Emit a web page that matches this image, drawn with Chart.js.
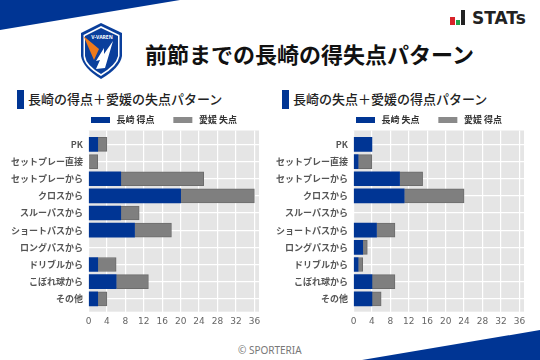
<!DOCTYPE html>
<html>
<head>
<meta charset="utf-8">
<script src="https://cdn.jsdelivr.net/npm/chart.js@4/dist/chart.umd.js"></script>
<style>
  html, body { margin: 0; padding: 0; background: #fff; }
  body { width: 540px; height: 360px; position: relative; overflow: hidden; font-family: "Noto Sans CJK JP", sans-serif; }
  .abs { position: absolute; white-space: nowrap; }
  canvas { position: absolute; }
  #title { left: 145px; top: 38px; font-size: 22px; line-height: 30px; font-weight: 700; color: #111; }
  .sub { top: 89px; font-size: 13px; line-height: 20px; font-weight: 500; color: #222; }
  .mark { top: 90px; width: 7px; height: 19px; background: #003594; }
  #copy { left: 238px; top: 343px; font-size: 10px; line-height: 14px; color: #777; font-family: "Noto Sans", sans-serif; }
  #stats { left: 472px; top: 6px; font-size: 17px; line-height: 24px; font-weight: 700; color: #222; font-family: "DejaVu Sans", sans-serif; }
</style>
</head>
<body>
<svg class="abs" style="left:0;top:0" width="540" height="360">
  <polygon points="0,0 180,0 0,30" fill="#003594"/>
  <polygon points="362,360 540,330 540,360" fill="#003594"/>
  <!-- club badge -->
  <path d="M101,23 L122,33 L122,56 Q120,68 101,79 Q83,68 81,56 L81,33 Z" fill="#0a3f9c"/>
  <path d="M101,26 L119.5,35 L119.5,56 Q118,66 101,76 Q84,66 83.5,56 L83.5,35 Z" fill="#fff"/>
  <path d="M101,28 L118,36 L118,56 Q116,65 101,74 Q86,65 85,56 L85,36 Z" fill="#0a3f9c"/>
  <polygon points="83.5,36 99,49 94,60" fill="#ee7a1c"/>
  <polygon points="113,41 105,68 96,69 100,60 96,61 104,48 104,54" fill="#fff"/>
  <text x="102" y="39" font-size="5" font-weight="700" fill="#fff" text-anchor="middle" font-family="Noto Sans">V-VAREN</text>
  <!-- stats mark -->
  <rect x="450" y="17" width="5" height="8" fill="#d8232a"/>
  <rect x="456" y="20" width="4" height="5" fill="#1fa34a"/>
  <rect x="461" y="10" width="4" height="15" fill="#222"/>
</svg>
<div id="title" class="abs">前節までの長崎の得失点パターン</div>
<div id="stats" class="abs">STATs</div>
<div class="mark abs" style="left:17px"></div>
<div class="sub abs" style="left:28px">長崎の得点＋愛媛の失点パターン</div>
<div class="mark abs" style="left:282px"></div>
<div class="sub abs" style="left:293px">長崎の失点＋愛媛の得点パターン</div>
<canvas id="chartLeft" style="left:0;top:105px" width="270" height="230"></canvas>
<canvas id="chartRight" style="left:265px;top:105px" width="270" height="230"></canvas>
<div id="copy" class="abs">© SPORTERIA</div>
<script>
const categories = ['PK', 'セットプレー直接', 'セットプレーから', 'クロスから', 'スルーパスから', 'ショートパスから', 'ロングパスから', 'ドリブルから', 'こぼれ球から', 'その他'];
const tickLabels = [0, 4, 8, 12, 16, 20, 24, 28, 32, 36];

const nagasakiGoals = [2, 0, 7, 20, 7, 10, 0, 2, 6, 2];
const ehimeConceded = [2, 2, 18, 16, 4, 8, 0, 4, 7, 2];
const nagasakiConceded = [4, 1, 10, 11, 0, 5, 2, 1, 4, 4];
const ehimeGoals = [0, 3, 5, 13, 0, 4, 1, 1, 5, 2];

const BLUE = '#003594';
const GREY = '#7f7f7f';
const FONT = '"Noto Sans CJK JP", sans-serif';

// y is a linear scale so the first and last bars can sit away from the plot edge
function points(values) {
    return values.map((v, i) => ({ x: v, y: i }));
}

function draw(id, firstLabel, firstData, secondLabel, secondData) {
    const ctx = document.getElementById(id).getContext('2d');
    return new Chart(ctx, {
        type: 'bar',
        data: {
            datasets: [
                {
                    label: firstLabel,
                    data: points(firstData),
                    // an empty bar would still leave a sliver
                    backgroundColor: (c) => (firstData[c.dataIndex] === 0 ? 'transparent' : BLUE),
                    borderWidth: 0
                },
                {
                    label: secondLabel,
                    data: points(secondData),
                    backgroundColor: (c) => (secondData[c.dataIndex] === 0 ? 'transparent' : GREY),
                    borderColor: '#6c6c6c',
                    borderWidth: (c) => (secondData[c.dataIndex] === 0 ? 0 : 1)
                }
            ]
        },
        options: {
            indexAxis: 'y',
            responsive: false,
            animation: false,
            layout: { padding: { left: 0, right: 11, top: 0, bottom: 0 } },
            datasets: { bar: { barThickness: 14 } },
            plugins: {
                tooltip: { enabled: false },
                legend: {
                    position: 'top',
                    align: 'start',
                    labels: {
                        boxWidth: 19,
                        boxHeight: 6,
                        padding: 6.5,
                        color: '#333',
                        font: { family: FONT, size: 9, weight: '700' },
                        generateLabels(chart) {
                            return Chart.defaults.plugins.legend.labels.generateLabels(chart).map((item, i) => ({
                                ...item,
                                text: ' ' + item.text + '      ',
                                lineWidth: 0,
                                fillStyle: i === 0 ? BLUE : '#8a8a8a'
                            }));
                        }
                    }
                }
            },
            scales: {
                x: {
                    stacked: true,
                    min: 0,
                    max: 37,
                    afterBuildTicks: (axis) => { axis.ticks = tickLabels.map((v) => ({ value: v })); },
                    afterFit: (axis) => { axis.height = 23.3; },
                    grid: { color: '#ffffff', lineWidth: 1.2, drawTicks: false },
                    border: { display: false },
                    ticks: { color: '#666', maxRotation: 0, padding: 5, font: { family: '"DejaVu Sans", sans-serif', size: 9 } }
                },
                y: {
                    type: 'linear',
                    reverse: true,
                    stacked: true,
                    offset: false,
                    min: -0.81,
                    max: 9.75,
                    afterBuildTicks: (axis) => { axis.ticks = categories.map((c, i) => ({ value: i })); },
                    afterFit: (axis) => { axis.width = 88.5; },
                    grid: { color: '#ffffff', lineWidth: 1.2, drawTicks: false, offset: false },
                    border: { display: false },
                    ticks: {
                        color: '#555',
                        padding: 5.5,
                        font: { family: FONT, size: 9, weight: '700' },
                        callback: (value) => categories[value]
                    }
                }
            }
        },
        plugins: [{
            id: 'plotBackground',
            beforeDraw(chart) {
                const { ctx, chartArea: a } = chart;
                ctx.save();
                ctx.fillStyle = '#e5e5e5';
                ctx.fillRect(a.left, a.top, a.right - a.left, a.bottom - a.top);
                ctx.restore();
            }
        }, {
            id: 'legendOffset',
            afterLayout(chart) {
                // legend starts above the plot, not at the canvas edge
                chart.legend.left = 91 - 6.5;
                chart.legend.top = 4;
            }
        }]
    });
}

draw('chartLeft', '長崎 得点', nagasakiGoals, '愛媛 失点', ehimeConceded);
draw('chartRight', '長崎 失点', nagasakiConceded, '愛媛 得点', ehimeGoals);
</script>
</body>
</html>
